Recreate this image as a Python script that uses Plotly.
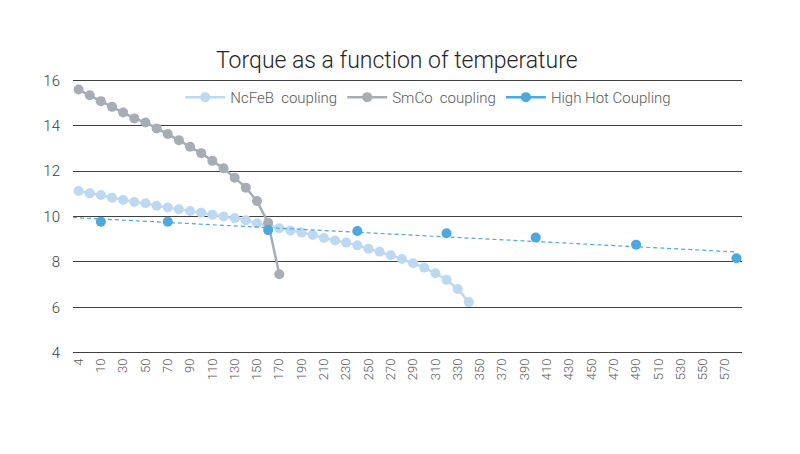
import numpy as np
import plotly.graph_objects as go

# temperature categories (the second one is never labelled on the axis)
temps = ["4", "5"] + [str(t) for t in range(10, 590, 10)]

ncfeb = [11.12, 11.02, 10.95, 10.83, 10.73, 10.64, 10.58, 10.47, 10.40, 10.32,
         10.24, 10.17, 10.08, 10.00, 9.93, 9.84, 9.70, 9.60, 9.48, 9.38,
         9.29, 9.19, 9.05, 8.94, 8.85, 8.73, 8.58, 8.45, 8.29, 8.13,
         7.94, 7.75, 7.50, 7.21, 6.81, 6.23]

smco = [15.59, 15.34, 15.08, 14.83, 14.58, 14.32, 14.14, 13.88, 13.63, 13.36,
        13.07, 12.79, 12.45, 12.12, 11.71, 11.27, 10.68, 9.72, 7.46]

hot_temps = ["10", "70", "160", "240", "320", "400", "490", "580"]
hot_vals = [9.77, 9.77, 9.40, 9.36, 9.26, 9.07, 8.76, 8.16]

C_NCFEB = "#BDD9F2"
C_SMCO = "#A7ADB5"
C_HOT = "#4DA8DF"
TXT = "#595959"
FONT = "Roboto"

idx = list(range(len(temps)))
hot_idx = [temps.index(t) for t in hot_temps]
hot_full = [None] * len(temps)
for i, v in zip(hot_idx, hot_vals):
    hot_full[i] = v

# linear trendline over category positions, like the spreadsheet one
slope, icpt = np.polyfit(hot_idx, hot_vals, 1)
tx = np.array([-0.5, hot_idx[-1]])
ty = slope * tx + icpt

fig = go.Figure()
fig.add_trace(go.Scatter(
    x=idx[:len(ncfeb)], y=ncfeb, name="NcFeB  coupling",
    mode="lines+markers", line=dict(color=C_NCFEB, width=2.5),
    marker=dict(size=10, color=C_NCFEB)))
fig.add_trace(go.Scatter(
    x=idx[:len(smco)], y=smco, name="SmCo  coupling",
    mode="lines+markers", line=dict(color=C_SMCO, width=2.5),
    marker=dict(size=10, color=C_SMCO)))
fig.add_trace(go.Scatter(
    x=tx, y=ty, mode="lines", showlegend=False, hoverinfo="skip",
    line=dict(color=C_HOT, width=1.2, dash="4px,3px")))
fig.add_trace(go.Scatter(
    x=idx, y=hot_full, name="High Hot Coupling", connectgaps=False,
    mode="lines+markers", line=dict(color=C_HOT, width=2.5),
    marker=dict(size=10, color=C_HOT)))

# the page body has an 8px margin, so the margins are shifted to compensate
fig.update_layout(
    width=800, height=454,
    margin=dict(l=65, r=66, t=70, b=107),
    paper_bgcolor="white", plot_bgcolor="white",
    font=dict(family=FONT, color=TXT, size=12, weight=300),
    title=dict(text="Torque as a function of temperature", x=0.486, xanchor="center",
               y=0.885, yanchor="middle",
               font=dict(family=FONT, size=23, color="#262626", weight=300)),
    legend=dict(orientation="h", x=0.531, xanchor="center", y=0.93, yanchor="middle",
                bgcolor="rgba(0,0,0,0)", font=dict(size=15, color=TXT, weight=300),
                itemwidth=40, tracegroupgap=0),
    showlegend=True,
)
fig.update_xaxes(
    range=[-0.5, len(temps) - 0.5],
    tickmode="array", tickvals=idx[::2], ticktext=temps[::2],
    tickangle=-90, tickfont=dict(size=13, color=TXT, weight=300),
    showgrid=False, zeroline=False, showline=False, ticks="")
fig.update_yaxes(
    range=[3.9, 16.1], tickvals=[4, 6, 8, 10, 12, 14, 16],
    showgrid=True, gridcolor="#404040", gridwidth=1,
    zeroline=False, showline=False, ticks="",
    tickfont=dict(size=15, color="#404040", weight=300),
    ticklabelstandoff=12)

fig.write_html("out.html")
